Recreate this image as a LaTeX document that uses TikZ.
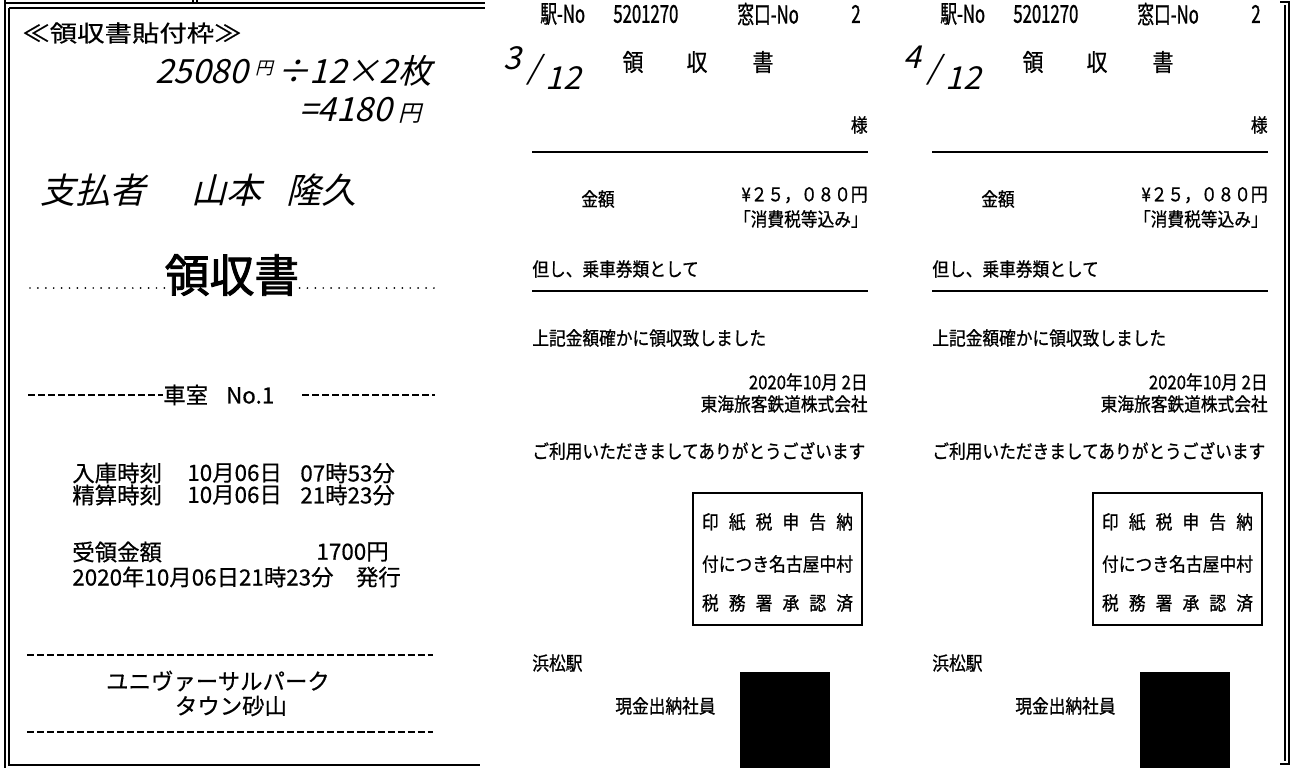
\documentclass[tikz,border=0pt]{standalone}
\usepackage{fontspec}
\newfontfamily\jp[FakeBold=0.5]{Noto Sans CJK JP}
\newfontfamily\jpwide[FakeStretch=1.2,FakeBold=0.5]{Noto Sans CJK JP}
\newfontfamily\jpnarrow[FakeStretch=0.88,FakeBold=0.8]{Noto Sans CJK JP}
\newfontfamily\jpthin[FakeStretch=0.68,FakeBold=1]{Noto Sans CJK JP}
\newfontfamily\jpbold[FakeBold=2]{Noto Sans CJK JP}
\newfontfamily\hand[FakeSlant=0.25]{Noto Sans CJK JP}
\tikzset{
  every node/.style={inner sep=0pt},
  lbl/.style={font=\jp\fontsize{12.75}{14}\selectfont},
  rct/.style={font=\jpnarrow\fontsize{10.8}{12}\selectfont},
  hdr/.style={font=\jpthin\fontsize{14}{16}\selectfont},
  hw/.style={font=\hand\fontsize{19}{21}\selectfont},
  hwbig/.style={font=\hand\fontsize{18}{20}\selectfont},
  rule/.style={line width=1.1pt},
  dashrule/.style={line width=1pt, dash pattern=on 4pt off 1.7pt},
}
\begin{document}
\begin{tikzpicture}[x=0.02cm, y=-0.02cm]
\useasboundingbox (0,0) rectangle (1292,768);
% frame
\draw[line width=.8pt] (5,0) -- (5,768);
\draw[line width=.8pt] (9,8) -- (9,765) -- (480,765);
\draw[line width=.8pt] (5,3) -- (485,3);
\draw[line width=.8pt] (9,8) -- (485,8);
\draw[line width=.8pt] (193,0) -- (193,3) (197,0) -- (197,3);
\draw[line width=.8pt] (1280,2) -- (1289,2) -- (1289,764) -- (1280,764);
\draw[line width=.8pt] (1285,5) -- (1285,761);

% left panel
\node[font=\jpwide\fontsize{13}{15}\selectfont, anchor=west] (waku) at (22,33) {≪領収書貼付枠≫};
\node[hw, anchor=west] (calc) at (155,71) {25080\kern4pt{\fontsize{10}{10}\selectfont\raisebox{1ex}{円}}\kern2pt÷12×2枚};
\node[hw, anchor=east] (total) at (422,110) {=4180\kern4pt{\fontsize{13}{13}\selectfont 円}};
\node[font=\hand\fontsize{20}{22}\selectfont, anchor=west] (payer) at (40,190) {支払者\hspace{1.3em}山本\hspace{.7em}隆久};
\node[font=\jpbold\fontsize{25.5}{27}\selectfont] (ryoshu) at (232,275) {領収書};
\draw[line width=1.1pt, line cap=round, dash pattern=on 0pt off 4.5pt] (30,288) -- (ryoshu.west |- 0,288);
\draw[line width=1.1pt, line cap=round, dash pattern=on 0pt off 4.5pt] (ryoshu.east |- 0,288) -- (435,288);

\node[lbl, anchor=west] (shitsu) at (163,395) {車室\hspace{.8em}No.1};
\draw[dashrule] (28,395) -- (shitsu.west);
\draw[dashrule] (302,395) -- (435,395);

\node[lbl, anchor=west] (nyuko) at (72,473) {入庫時刻};
\node[lbl, anchor=west] (nyukod) at (187,473) {10月06日};
\node[lbl, anchor=west] (nyukot) at (300,473) {07時53分};
\node[lbl, anchor=west] (seisan) at (72,495) {精算時刻};
\node[lbl, anchor=west] (seisand) at (187,495) {10月06日};
\node[lbl, anchor=west] (seisant) at (300,495) {21時23分};
\node[lbl, anchor=west] (juryo) at (72,552) {受領金額};
\node[lbl, anchor=east] (juryok) at (389,552) {1700円};
\node[lbl, anchor=west] (hakko) at (72,577) {2020年10月06日21時23分\hspace{1em}発行};

\draw[dashrule] (27,655) -- (433,655);
\node[lbl] (park) at (218,681) {ユニヴァーサルパーク};
\node[lbl] (town) at (231,706) {タウン砂山};
\draw[dashrule] (27,732) -- (433,732);

% receipts
\foreach \o/\d in {0/3,400/4}{
\begin{scope}[shift={(\o,0)}]
  \node[hdr, anchor=west] (eki\d) at (540,14) {駅-No};
  \node[hdr, anchor=west] (ekino\d) at (613,14) {5201270};
  \node[hdr, anchor=west] (mado\d) at (737,14) {窓口-No};
  \node[hdr, anchor=east] (madono\d) at (861,14) {2};
  \node[hwbig] (page\d) at (542,68) {\raisebox{.6ex}{\d}\kern4pt/\kern3pt\raisebox{-.6ex}{12}};
  \foreach \c/\x in {領/633,収/697,書/763}
    \node[font=\jpnarrow\fontsize{13.5}{15}\selectfont] (title\d\x) at (\x,62) {\c};
  \node[rct, anchor=east] (sama\d) at (868,125) {様};
  \draw[rule] (532,152) -- (868,152);
  \node[rct] (kingaku\d) at (598,199) {金額};
  \node[rct, anchor=east] (yen\d) at (868,195) {¥２５，０８０円};
  \node[rct, anchor=east] (zei\d) at (868,219) {「消費税等込み」};
  \node[rct, anchor=west] (tada\d) at (532,269) {但し、乗車券類として};
  \draw[rule] (532,291) -- (868,291);
  \node[rct, anchor=west] (joki\d) at (532,338) {上記金額確かに領収致しました};
  \node[rct, anchor=east] (date\d) at (868,382) {2020年10月 2日};
  \node[rct, anchor=east] (jr\d) at (868,404) {東海旅客鉄道株式会社};
  \node[rct, anchor=west] (thanks\d) at (532,451) {ご利用いただきましてありがとうございます};
  \node[draw, rule, minimum width=3.38cm, minimum height=2.64cm] (stamp\d) at (777.5,559) {};
  \node[rct] (stampa\d) at (777.5,522) {\makebox[3.02cm][s]{印\hfill 紙\hfill 税\hfill 申\hfill 告\hfill 納}};
  \node[rct] (stampb\d) at (777.5,564) {\makebox[3.02cm][s]{付\hfill に\hfill つ\hfill き\hfill 名\hfill 古\hfill 屋\hfill 中\hfill 村}};
  \node[rct] (stampc\d) at (777.5,603) {\makebox[3.02cm][s]{税\hfill 務\hfill 署\hfill 承\hfill 認\hfill 済}};
  \node[rct, anchor=west] (hama\d) at (532,663) {浜松駅};
  \node[rct, anchor=west] (suito\d) at (615,706) {現金出納社員};
  \fill (740,672) rectangle (830,768);
\end{scope}}
\end{tikzpicture}
\end{document}
